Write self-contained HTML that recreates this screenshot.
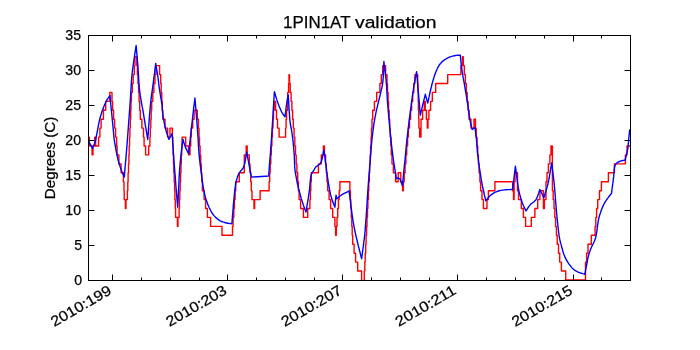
<!DOCTYPE html><html><head><meta charset="utf-8"><style>html,body{margin:0;padding:0;background:#fff;width:700px;height:350px;overflow:hidden}svg{display:block;will-change:transform}text{font-family:"Liberation Sans",sans-serif;fill:#000;stroke:#000;stroke-width:0.25px}</style></head><body>
<svg width="700" height="350" viewBox="0 0 700 350">
<rect x="0" y="0" width="700" height="350" fill="#fff"/>
<defs><clipPath id="c"><rect x="88" y="35" width="542" height="245"/></clipPath></defs>
<polyline clip-path="url(#c)" points="87.0,137.1 89.4,137.1 89.4,146.0 92.1,146.0 92.1,154.9 93.0,154.9 93.0,146.0 94.7,146.0 94.7,137.1 95.6,137.1 95.6,146.0 98.6,146.0 98.6,137.1 99.9,137.1 99.9,128.1 101.1,128.1 101.1,119.2 103.4,119.2 103.4,110.3 105.7,110.3 105.7,101.4 109.8,101.4 109.8,92.4 112.0,92.4 112.0,101.4 112.6,101.4 112.6,110.3 113.6,110.3 113.6,119.2 114.6,119.2 114.6,128.1 115.6,128.1 115.6,137.1 116.6,137.1 116.6,146.0 117.1,146.0 117.1,154.9 118.9,154.9 118.9,163.9 121.1,163.9 121.1,172.8 123.4,172.8 123.4,181.7 124.0,181.7 124.0,190.7 124.2,190.7 124.2,199.6 125.4,199.6 125.4,208.5 126.0,208.5 126.0,199.6 127.4,199.6 127.4,190.7 127.8,190.7 127.8,181.7 128.1,181.7 128.1,172.8 128.5,172.8 128.5,163.9 128.9,163.9 128.9,154.9 129.2,154.9 129.2,146.0 129.6,146.0 129.6,137.1 129.9,137.1 129.9,128.1 130.3,128.1 130.3,119.2 130.7,119.2 130.7,110.3 131.0,110.3 131.0,101.4 131.4,101.4 131.4,92.4 132.3,92.4 132.3,83.5 133.2,83.5 133.2,74.6 134.3,74.6 134.3,65.6 135.0,65.6 135.0,56.7 136.8,56.7 136.8,65.6 137.4,65.6 137.4,74.6 138.0,74.6 138.0,83.5 138.6,83.5 138.6,92.4 139.1,92.4 139.1,101.4 139.7,101.4 139.7,110.3 140.3,110.3 140.3,119.2 141.9,119.2 141.9,128.1 143.5,128.1 143.5,137.1 144.1,137.1 144.1,146.0 145.6,146.0 145.6,154.9 148.7,154.9 148.7,146.0 149.9,146.0 149.9,137.1 150.3,137.1 150.3,128.1 150.8,128.1 150.8,119.2 151.2,119.2 151.2,110.3 151.7,110.3 151.7,101.4 152.8,101.4 152.8,92.4 153.9,92.4 153.9,83.5 155.0,83.5 155.0,74.6 156.0,74.6 156.0,65.6 159.6,65.6 159.6,74.6 160.7,74.6 160.7,83.5 161.2,83.5 161.2,92.4 161.8,92.4 161.8,101.4 162.3,101.4 162.3,110.3 162.8,110.3 162.8,119.2 165.0,119.2 165.0,128.1 167.6,128.1 167.6,137.1 170.0,137.1 170.0,128.1 172.4,128.1 172.4,137.1 172.8,137.1 172.8,146.0 173.1,146.0 173.1,154.9 173.5,154.9 173.5,163.9 173.8,163.9 173.8,172.8 174.2,172.8 174.2,181.7 174.6,181.7 174.6,190.7 174.9,190.7 174.9,199.6 175.3,199.6 175.3,208.5 175.6,208.5 175.6,217.4 176.0,217.4 177.4,217.4 177.4,226.4 178.0,226.4 178.0,217.4 179.1,217.4 179.1,208.5 179.5,208.5 179.5,199.6 179.8,199.6 179.8,190.7 180.2,190.7 180.2,181.7 180.6,181.7 180.6,172.8 181.0,172.8 181.0,163.9 181.3,163.9 181.3,154.9 181.7,154.9 181.7,146.0 182.1,146.0 182.1,137.1 185.7,137.1 185.7,146.0 188.6,146.0 188.6,154.9 190.0,154.9 190.0,146.0 190.7,146.0 190.7,137.1 191.3,137.1 191.3,128.1 192.7,128.1 192.7,119.2 194.1,119.2 194.1,110.3 197.3,110.3 197.3,119.2 198.4,119.2 198.4,128.1 199.0,128.1 199.0,137.1 199.5,137.1 199.5,146.0 200.1,146.0 200.1,154.9 200.7,154.9 200.7,163.9 201.3,163.9 201.3,172.8 201.8,172.8 201.8,181.7 202.4,181.7 202.4,190.7 204.1,190.7 204.1,199.6 205.6,199.6 205.6,208.5 207.4,208.5 207.4,217.4 210.6,217.4 210.6,226.4 222.0,226.4 222.0,235.3 232.5,235.3 232.5,226.4 233.1,226.4 233.1,217.4 233.8,217.4 233.8,208.5 234.4,208.5 234.4,199.6 235.1,199.6 235.1,190.7 235.7,190.7 235.7,181.7 239.3,181.7 239.3,172.8 244.3,172.8 244.3,154.9 246.2,154.9 246.2,146.0 247.2,146.0 247.2,154.9 249.3,154.9 249.3,163.9 250.0,163.9 250.0,172.8 250.7,172.8 250.7,181.7 251.3,181.7 251.3,190.7 252.0,190.7 252.0,199.6 254.0,199.6 254.0,208.5 254.6,208.5 254.6,199.6 260.1,199.6 260.1,190.7 269.1,190.7 269.1,181.7 269.7,181.7 269.7,172.8 270.2,172.8 270.2,163.9 270.8,163.9 270.8,154.9 271.3,154.9 271.3,146.0 271.9,146.0 271.9,137.1 272.4,137.1 272.4,128.1 273.0,128.1 273.0,119.2 273.5,119.2 273.5,110.3 274.1,110.3 274.1,101.4 275.6,101.4 275.6,110.3 276.5,110.3 276.5,119.2 277.5,119.2 277.5,128.1 279.1,128.1 279.1,137.1 285.6,137.1 285.6,128.1 286.1,128.1 286.1,119.2 286.6,119.2 286.6,110.3 287.7,110.3 287.7,92.4 288.6,92.4 288.6,83.5 289.0,83.5 289.0,74.6 289.5,74.6 289.5,83.5 290.2,83.5 290.2,92.4 291.1,92.4 291.1,101.4 291.9,101.4 291.9,110.3 292.6,110.3 292.6,119.2 293.3,119.2 293.3,128.1 294.1,128.1 294.1,137.1 294.8,137.1 294.8,146.0 295.5,146.0 295.5,154.9 296.2,154.9 296.2,163.9 296.9,163.9 296.9,172.8 297.7,172.8 297.7,181.7 298.4,181.7 298.4,190.7 299.1,190.7 299.1,199.6 300.6,199.6 300.6,208.5 303.4,208.5 303.4,217.4 307.7,217.4 307.7,208.5 309.9,208.5 309.9,199.6 310.4,199.6 310.4,190.7 310.8,190.7 310.8,181.7 311.3,181.7 311.3,172.8 318.4,172.8 318.4,163.9 321.3,163.9 321.3,154.9 323.4,154.9 323.4,146.0 324.4,146.0 324.4,154.9 325.6,154.9 325.6,163.9 326.3,163.9 326.3,172.8 327.0,172.8 327.0,181.7 327.7,181.7 327.7,190.7 329.1,190.7 329.1,199.6 330.6,199.6 330.6,208.5 332.7,208.5 332.7,217.4 334.9,217.4 334.9,226.4 335.6,226.4 335.6,235.3 336.3,235.3 336.3,226.4 337.0,226.4 337.0,217.4 337.7,217.4 337.7,208.5 338.5,208.5 338.4,199.6 339.2,199.6 339.2,190.7 339.9,190.7 339.9,181.7 349.9,181.7 349.9,190.7 350.4,190.7 350.4,199.6 350.8,199.6 350.8,208.5 351.3,208.5 351.3,217.4 351.8,217.4 351.8,226.4 352.2,226.4 352.2,235.3 352.7,235.3 352.7,244.2 354.1,244.2 354.1,253.2 355.6,253.2 355.6,262.1 357.7,262.1 357.7,271.0 361.6,271.0 361.6,297.8 363.4,297.8 363.4,288.9 363.9,288.9 363.9,279.9 364.3,279.9 364.3,271.0 364.8,271.0 364.8,262.1 365.2,262.1 365.2,253.2 365.7,253.2 365.7,244.2 366.1,244.2 366.1,235.3 366.6,235.3 366.6,226.4 367.0,226.4 367.0,217.4 367.5,217.4 367.5,208.5 367.9,208.5 367.9,199.6 368.4,199.6 368.4,190.7 368.8,190.7 368.8,181.7 369.3,181.7 369.3,172.8 369.7,172.8 369.7,163.9 370.2,163.9 370.2,154.9 370.6,154.9 370.6,146.0 371.1,146.0 371.1,137.1 371.5,137.1 371.5,128.1 372.0,128.1 372.0,119.2 372.7,119.2 372.7,110.3 374.4,110.3 374.4,101.4 376.7,101.4 376.7,92.4 379.9,92.4 379.9,83.5 381.3,83.5 381.3,74.6 382.7,74.6 382.7,65.6 385.6,65.6 385.6,74.6 387.0,74.6 387.0,83.5 387.5,83.5 387.5,92.4 388.1,92.4 388.1,101.4 388.6,101.4 388.6,110.3 389.2,110.3 389.1,119.2 389.7,119.2 389.7,128.1 390.2,128.1 390.2,137.1 390.8,137.1 390.8,146.0 391.3,146.0 391.3,154.9 392.0,154.9 392.0,163.9 393.4,163.9 393.4,172.8 395.6,172.8 395.6,181.7 398.2,181.7 398.2,172.8 400.8,172.8 400.8,181.7 402.6,181.7 402.6,190.7 403.4,190.7 403.4,181.7 404.2,181.7 404.2,172.8 405.1,172.8 405.1,163.9 405.9,163.9 405.9,154.9 406.7,154.9 406.7,146.0 407.6,146.0 407.6,137.1 408.4,137.1 408.4,128.1 409.5,128.1 409.5,119.2 410.6,119.2 410.6,110.3 411.6,110.3 411.6,101.4 412.7,101.4 412.7,92.4 413.8,92.4 413.8,83.5 414.9,83.5 414.9,74.6 417.7,74.6 417.7,83.5 417.9,83.5 417.9,92.4 418.2,92.4 418.2,101.4 418.4,101.4 418.4,110.3 418.7,110.3 418.7,119.2 418.9,119.2 418.9,128.1 419.7,128.1 419.7,137.1 421.0,137.1 421.0,119.2 422.6,119.2 422.6,110.3 424.3,110.3 424.3,101.4 425.3,101.4 425.3,110.3 426.4,110.3 426.4,119.2 427.3,119.2 427.3,128.1 428.0,128.1 428.0,119.2 428.9,119.2 428.9,110.3 430.6,110.3 430.6,101.4 432.3,101.4 432.3,92.4 435.7,92.4 435.7,83.5 447.7,83.5 447.7,74.6 460.9,74.6 460.9,65.6 462.5,65.6 462.5,56.7 463.3,56.7 463.3,65.6 464.3,65.6 464.3,74.6 465.4,74.6 465.4,83.5 466.3,83.5 466.3,92.4 467.2,92.4 467.2,101.4 468.1,101.4 468.1,110.3 469.0,110.3 469.0,119.2 471.0,119.2 471.0,128.1 474.0,128.1 474.0,119.2 475.5,119.2 475.5,128.1 476.2,128.1 476.2,137.1 477.0,137.1 477.0,146.0 477.7,146.0 477.7,154.9 478.4,154.9 478.4,163.9 479.1,163.9 479.1,172.8 479.9,172.8 479.9,181.7 480.6,181.7 480.6,190.7 482.0,190.7 482.0,199.6 483.4,199.6 483.4,208.5 487.0,208.5 487.0,199.6 488.4,199.6 488.4,190.7 494.9,190.7 494.9,181.7 512.7,181.7 512.7,190.7 513.5,190.7 513.5,199.6 514.1,199.6 514.1,181.7 515.0,181.7 515.0,172.8 517.5,172.8 517.5,190.7 518.5,190.7 518.5,199.6 521.3,199.6 521.3,208.5 523.4,208.5 523.4,217.4 525.6,217.4 525.6,226.4 531.3,226.4 531.3,217.4 534.9,217.4 534.9,208.5 537.7,208.5 537.7,199.6 539.9,199.6 539.9,190.7 543.4,190.7 543.4,208.5 544.4,208.5 544.4,199.6 546.0,199.6 546.0,181.7 547.0,181.7 547.0,172.8 548.4,172.8 548.4,163.9 549.9,163.9 549.9,154.9 551.0,154.9 551.0,146.0 552.4,146.0 552.4,190.7 553.2,190.7 553.2,199.6 554.0,199.6 554.0,208.5 554.8,208.5 554.8,217.4 555.6,217.4 555.6,226.4 556.4,226.4 556.4,235.3 557.2,235.3 557.2,244.2 558.5,244.2 558.5,253.2 559.7,253.2 559.7,262.1 561.4,262.1 561.4,271.0 565.7,271.0 565.7,279.9 585.5,279.9 585.5,262.1 586.6,262.1 586.6,253.2 588.0,253.2 588.0,244.2 591.3,244.2 591.3,235.3 595.1,235.3 595.1,226.4 595.8,226.4 595.8,217.4 596.6,217.4 596.6,208.5 597.7,208.5 597.7,199.6 599.5,199.6 599.5,190.7 601.4,190.7 601.4,181.7 608.4,181.7 608.4,172.8 614.4,172.8 614.4,163.9 625.4,163.9 625.4,154.9 627.0,154.9 627.0,146.0 632.0,146.0" fill="none" stroke="#ff0000" stroke-width="1.4" stroke-linejoin="round"/>
<polyline clip-path="url(#c)" points="87.0,139.5 87.3,139.9 87.5,140.2 87.8,140.5 88.1,140.9 88.4,141.3 88.7,141.7 89.3,142.6 89.9,143.7 90.6,144.9 91.3,146.1 91.9,147.3 92.6,148.5 93.0,147.3 93.5,146.2 94.0,145.1 94.4,143.9 94.8,142.7 95.2,141.5 95.6,140.2 95.9,138.8 96.1,137.5 96.4,136.0 96.7,134.6 97.0,133.0 97.4,130.8 97.9,128.3 98.4,125.7 98.9,123.2 99.4,120.6 100.0,118.3 100.5,116.4 101.1,114.6 101.6,112.8 102.2,111.1 102.8,109.4 103.4,107.8 103.9,106.5 104.4,105.2 104.9,104.0 105.5,102.8 106.0,101.7 106.6,100.6 107.1,99.7 107.7,98.8 108.3,98.0 108.8,97.2 109.4,96.3 110.0,95.5 110.1,97.1 110.3,98.7 110.4,100.3 110.6,101.9 110.7,103.7 110.9,105.7 111.3,109.7 111.8,114.5 112.3,119.6 112.8,124.7 113.2,129.3 113.6,133.0 113.7,134.4 113.8,135.5 113.9,136.6 114.0,137.6 114.1,138.7 114.3,140.0 114.7,142.8 115.3,146.0 115.9,149.5 116.6,153.1 117.3,156.5 118.0,159.5 118.5,161.6 119.1,163.5 119.7,165.4 120.3,167.2 120.9,168.9 121.5,170.5 122.0,171.7 122.4,172.8 122.9,173.9 123.4,174.9 123.8,175.9 124.3,177.0 124.8,170.9 125.3,164.7 125.9,158.6 126.4,152.4 126.9,146.3 127.4,140.0 127.9,133.3 128.4,126.4 128.9,119.5 129.4,112.7 129.9,106.1 130.3,100.0 130.6,95.5 130.8,91.3 131.1,87.3 131.3,83.3 131.6,79.2 132.0,75.0 132.5,70.2 133.2,65.3 133.9,60.4 134.6,55.4 135.4,50.4 136.1,45.5 136.4,48.4 136.6,51.3 136.9,54.2 137.2,57.1 137.4,60.2 137.7,63.4 138.0,67.8 138.3,72.6 138.6,77.5 138.9,82.5 139.3,87.4 139.8,92.0 140.3,95.7 140.9,99.3 141.5,102.8 142.1,106.2 142.8,109.7 143.4,113.4 144.1,117.6 144.8,121.9 145.5,126.3 146.3,130.7 147.0,135.1 147.7,139.5 148.2,133.6 148.6,127.4 149.1,121.2 149.5,115.3 150.0,109.8 150.4,105.0 150.7,102.5 150.9,100.3 151.2,98.2 151.4,96.2 151.7,94.2 152.0,92.0 152.4,89.3 152.8,86.4 153.2,83.4 153.6,80.5 153.9,77.7 154.3,75.0 154.6,72.9 154.8,71.0 155.0,69.1 155.3,67.2 155.5,65.3 155.7,63.4 156.0,65.3 156.3,67.2 156.6,69.1 157.0,71.0 157.3,72.9 157.6,75.0 158.0,77.7 158.4,80.5 158.7,83.4 159.1,86.4 159.5,89.3 159.9,92.0 160.3,94.3 160.6,96.5 161.0,98.7 161.4,100.9 161.7,102.9 162.0,105.0 162.2,106.7 162.3,108.4 162.4,110.0 162.5,111.6 162.7,113.2 162.9,115.0 163.2,117.3 163.7,119.7 164.1,122.2 164.6,124.6 165.2,127.0 165.7,129.3 166.2,131.1 166.7,132.8 167.3,134.4 167.8,136.0 168.4,137.7 168.9,139.3 172.1,133.6 172.5,138.8 172.8,143.9 173.2,149.0 173.5,154.2 173.9,159.5 174.3,165.0 174.8,171.7 175.4,178.6 175.9,185.8 176.5,193.0 177.1,200.2 177.7,207.3 178.1,200.1 178.4,192.8 178.8,185.5 179.1,178.3 179.5,171.4 180.0,165.0 180.4,160.3 180.9,156.0 181.4,151.7 181.9,147.6 182.4,143.5 182.9,139.3 183.4,140.8 183.8,142.2 184.3,143.7 184.7,145.2 185.2,146.6 185.7,147.9 186.2,148.9 186.6,149.9 187.1,150.8 187.6,151.8 188.1,152.7 188.6,153.6 189.3,147.0 190.1,140.2 190.8,133.3 191.6,126.7 192.3,120.5 192.9,115.0 193.3,111.8 193.6,108.8 193.9,106.1 194.3,103.4 194.6,100.8 194.9,98.0 195.4,103.9 195.9,110.0 196.4,116.0 196.9,122.0 197.3,127.7 197.7,133.0 198.0,136.9 198.2,140.6 198.4,144.1 198.6,147.6 198.8,151.0 199.1,154.4 199.4,157.6 199.8,160.8 200.1,163.9 200.5,167.0 200.9,170.0 201.3,173.0 201.6,175.6 202.0,178.2 202.3,180.8 202.6,183.3 203.0,185.7 203.4,188.0 203.7,189.8 204.1,191.6 204.4,193.3 204.8,195.0 205.2,196.6 205.7,198.3 206.2,200.0 206.8,201.6 207.4,203.3 208.0,204.9 208.7,206.5 209.4,208.0 210.1,209.3 210.7,210.6 211.4,211.9 212.2,213.1 212.9,214.3 213.8,215.4 214.7,216.4 215.6,217.4 216.7,218.3 217.7,219.1 218.7,219.9 219.8,220.6 220.7,221.1 221.7,221.5 222.7,221.9 223.7,222.2 224.7,222.5 225.7,222.8 226.7,223.0 227.7,223.2 228.8,223.4 229.8,223.5 230.9,223.6 231.9,223.8 232.2,219.8 232.5,215.7 232.9,211.6 233.2,207.5 233.5,203.6 233.9,199.8 234.2,196.6 234.5,193.4 234.8,190.3 235.2,187.3 235.6,184.5 236.1,181.9 236.5,180.2 237.0,178.6 237.5,177.0 238.0,175.6 238.6,174.2 239.3,172.9 240.0,171.9 240.7,171.0 241.5,170.1 242.2,169.2 243.0,168.3 243.6,167.1 244.3,165.0 244.9,162.7 245.4,160.1 245.8,157.4 246.2,154.7 246.7,152.1 251.4,177.1 268.6,176.0 269.1,170.1 269.5,164.2 270.0,158.3 270.5,152.4 270.9,146.3 271.4,140.0 271.9,132.3 272.4,124.4 272.9,116.2 273.4,108.0 273.9,99.7 274.4,91.6 274.8,92.9 275.2,94.2 275.5,95.5 275.9,96.8 276.3,98.1 276.7,99.4 277.1,100.6 277.5,101.8 277.9,103.0 278.4,104.2 278.8,105.4 279.3,106.6 279.8,107.8 280.3,108.9 280.8,110.1 281.3,111.3 281.9,112.3 282.4,113.3 282.8,114.0 283.3,114.6 283.7,115.2 284.1,115.8 284.6,116.3 285.0,116.9 285.3,114.2 285.7,111.5 286.0,108.7 286.3,106.1 286.7,103.6 287.0,101.4 287.2,100.2 287.4,99.1 287.6,98.0 287.8,97.0 288.0,96.0 288.2,95.0 288.5,99.6 288.8,104.4 289.1,109.3 289.4,113.9 289.7,118.2 290.1,122.0 290.4,124.1 290.7,125.9 291.0,127.6 291.4,129.3 291.7,131.0 292.0,133.0 292.4,136.0 292.8,139.3 293.2,142.7 293.5,146.2 293.8,149.7 294.1,153.0 294.3,155.9 294.4,158.7 294.5,161.5 294.6,164.3 294.7,167.1 295.0,170.0 295.4,173.1 296.0,176.2 296.6,179.4 297.2,182.5 297.9,185.6 298.6,188.6 299.3,191.3 300.0,193.9 300.7,196.5 301.4,199.0 302.2,201.4 302.9,203.6 303.4,205.2 303.9,206.6 304.5,208.0 305.0,209.4 305.5,210.7 306.0,212.1 306.6,208.6 307.1,205.1 307.7,201.6 308.3,198.2 308.8,194.7 309.3,191.4 309.7,188.3 309.9,185.1 310.2,181.9 310.5,179.0 310.9,176.4 311.4,174.3 311.7,173.5 312.1,172.9 312.5,172.3 312.8,171.8 313.2,171.3 313.6,170.7 313.9,170.1 314.2,169.6 314.5,169.0 314.8,168.4 315.2,167.9 315.6,167.3 316.3,166.6 317.1,166.0 318.1,165.4 319.0,164.7 319.9,163.9 320.6,163.0 321.4,161.3 322.0,159.3 322.5,157.0 323.0,154.7 323.4,152.3 323.9,150.1 324.7,155.7 325.4,161.6 326.2,167.4 326.9,173.0 327.7,178.3 328.4,183.0 328.9,185.8 329.3,188.3 329.8,190.7 330.2,193.0 330.7,195.1 331.3,197.3 331.8,199.1 332.4,200.8 333.0,202.4 333.7,204.0 334.3,205.7 334.9,207.3 336.0,195.1 337.0,198.7 337.7,198.1 338.4,197.5 339.0,196.9 339.7,196.3 340.5,195.7 341.3,195.1 342.4,194.4 343.7,193.7 345.0,193.0 346.4,192.3 347.8,191.6 349.1,190.9 349.7,195.6 350.3,200.5 350.9,205.4 351.5,210.1 352.1,214.6 352.7,218.7 353.1,221.3 353.5,223.7 353.9,225.9 354.3,228.1 354.8,230.4 355.3,233.0 356.2,236.9 357.2,241.0 358.2,245.4 359.4,249.9 360.5,254.3 361.6,258.7 362.2,254.5 362.7,250.5 363.3,246.4 363.8,242.2 364.4,237.8 364.9,233.0 365.5,225.6 366.1,217.6 366.7,209.0 367.2,200.3 367.8,191.5 368.4,183.0 369.1,174.4 369.8,165.4 370.5,156.5 371.2,147.9 371.9,139.9 372.7,133.0 373.2,129.4 373.6,126.2 374.0,123.2 374.5,120.3 375.0,117.5 375.6,114.4 376.3,110.8 377.2,107.1 378.1,103.3 379.0,99.6 379.9,96.1 380.6,93.0 381.0,91.2 381.4,89.5 381.8,88.0 382.1,86.5 382.4,84.9 382.7,83.0 383.0,79.9 383.3,76.4 383.4,72.8 383.6,69.0 383.7,65.2 383.9,61.5 384.3,65.1 384.7,68.7 385.2,72.3 385.6,75.8 386.0,79.4 386.3,83.0 386.6,86.5 386.8,90.0 387.0,93.5 387.2,97.0 387.4,100.7 387.7,104.4 388.1,109.0 388.5,113.8 388.9,118.7 389.4,123.6 389.8,128.4 390.3,133.0 390.7,136.7 391.1,140.3 391.4,143.8 391.8,147.3 392.2,150.8 392.7,154.4 393.2,158.4 393.8,162.4 394.4,166.5 395.1,170.5 395.7,174.6 396.3,178.7 398.4,178.0 400.0,179.0 402.4,185.7 402.6,184.1 402.7,182.7 402.9,181.2 403.0,179.7 403.2,177.9 403.4,175.9 403.9,170.4 404.6,163.5 405.4,155.8 406.1,147.8 406.9,140.0 407.7,133.0 408.3,127.8 408.9,122.9 409.5,118.1 410.1,113.4 410.7,108.9 411.3,104.4 411.8,100.6 412.3,96.8 412.9,93.1 413.4,89.5 413.9,86.1 414.4,83.0 414.8,80.9 415.1,78.9 415.5,77.1 415.9,75.3 416.2,73.5 416.6,71.6 416.9,75.5 417.3,79.5 417.6,83.4 417.9,87.3 418.3,91.2 418.6,95.0 418.9,98.4 419.2,101.8 419.5,105.1 419.7,108.4 420.0,111.7 420.3,115.0 425.3,94.3 427.7,103.0 428.2,100.8 428.7,98.6 429.2,96.4 429.6,94.2 430.1,92.0 430.6,90.0 431.0,88.4 431.4,86.8 431.7,85.3 432.1,83.8 432.5,82.4 432.9,80.9 433.3,79.4 433.8,78.0 434.2,76.5 434.7,75.1 435.2,73.7 435.7,72.3 436.2,71.1 436.7,69.9 437.3,68.7 437.8,67.5 438.5,66.4 439.1,65.4 439.7,64.5 440.3,63.7 441.0,63.0 441.6,62.3 442.3,61.6 443.1,60.9 444.0,60.2 444.9,59.6 445.9,59.0 446.9,58.4 447.9,57.9 448.9,57.4 449.8,57.0 450.8,56.7 451.7,56.4 452.7,56.1 453.6,55.9 454.6,55.7 455.5,55.5 456.5,55.4 457.4,55.3 458.4,55.3 459.3,55.2 460.3,55.1 460.6,57.7 460.8,60.3 461.1,63.0 461.4,65.6 461.7,68.1 462.0,70.6 462.3,72.7 462.7,74.7 463.0,76.7 463.4,78.7 463.8,80.8 464.2,83.0 464.8,86.3 465.3,89.8 466.0,93.5 466.6,97.3 467.2,101.0 467.7,104.4 468.1,107.2 468.5,109.9 468.9,112.6 469.2,115.2 469.6,117.7 470.0,120.0 470.3,121.7 470.7,123.3 471.1,124.9 471.5,126.4 471.8,127.9 472.2,129.5 475.0,127.5 475.3,129.6 475.5,131.6 475.8,133.7 476.0,135.8 476.3,137.9 476.5,140.0 476.7,142.3 476.9,144.5 477.0,146.8 477.2,149.2 477.4,151.7 477.7,154.4 478.2,158.6 478.8,163.3 479.5,168.3 480.3,173.3 481.0,178.2 481.8,182.6 482.4,185.9 483.1,189.0 483.8,192.0 484.4,195.0 485.1,197.9 485.8,200.9 486.4,200.2 486.9,199.4 487.5,198.6 488.0,197.9 488.6,197.2 489.3,196.5 490.1,195.8 490.9,195.1 491.7,194.4 492.6,193.8 493.5,193.2 494.4,192.7 495.3,192.2 496.3,191.8 497.3,191.4 498.3,191.0 499.4,190.7 500.6,190.4 502.4,190.1 504.3,189.9 506.3,189.7 508.4,189.6 510.6,189.5 512.6,189.3 515.4,166.3 516.0,170.6 516.5,175.0 517.1,179.4 517.7,183.7 518.3,187.7 519.0,191.4 519.6,193.8 520.2,196.1 520.8,198.2 521.5,200.3 522.1,202.2 522.8,204.0 523.3,205.3 523.8,206.5 524.4,207.6 524.9,208.7 525.5,209.8 526.0,210.9 526.7,209.8 527.4,208.8 528.1,207.7 528.8,206.6 529.6,205.6 530.4,204.6 531.3,203.7 532.3,203.0 533.3,202.2 534.3,201.5 535.2,200.6 536.0,199.6 536.8,198.2 537.5,196.6 538.1,194.8 538.7,193.0 539.2,191.2 539.8,189.5 543.9,197.7 544.6,195.3 545.3,192.9 546.1,190.5 546.8,188.1 547.5,185.6 548.1,183.0 548.8,179.9 549.4,176.6 550.0,173.2 550.5,169.8 551.1,166.4 551.7,163.0 552.1,166.3 552.5,169.5 552.9,172.7 553.3,175.9 553.7,179.4 554.1,183.0 554.6,188.2 555.1,194.0 555.5,199.9 556.0,205.9 556.5,211.7 557.0,217.0 557.4,220.9 557.8,224.8 558.2,228.5 558.6,232.0 559.0,235.2 559.5,238.0 559.8,239.5 560.1,240.8 560.4,242.1 560.7,243.2 561.1,244.4 561.4,245.7 561.8,247.2 562.2,248.7 562.6,250.2 563.0,251.7 563.5,253.3 564.0,254.7 564.6,256.0 565.1,257.4 565.8,258.7 566.4,260.0 567.2,261.2 567.9,262.4 568.7,263.6 569.5,264.7 570.3,265.8 571.2,266.9 572.1,267.9 573.0,268.8 573.8,269.5 574.6,270.1 575.4,270.7 576.3,271.2 577.2,271.6 578.1,272.1 579.1,272.5 580.2,272.9 581.4,273.2 582.5,273.6 583.7,273.9 584.8,274.2 585.1,272.8 585.4,271.4 585.6,269.9 585.9,268.5 586.2,267.1 586.5,265.6 586.8,264.0 587.1,262.4 587.4,260.8 587.7,259.1 588.0,257.5 588.4,256.0 588.8,254.7 589.2,253.4 589.6,252.1 590.0,250.9 590.5,249.6 591.0,248.3 591.7,246.7 592.4,245.1 593.3,243.5 594.1,241.8 594.8,240.0 595.5,238.0 596.2,235.0 596.8,231.7 597.2,228.1 597.7,224.6 598.2,221.1 598.9,217.9 599.6,215.3 600.5,212.8 601.3,210.3 602.2,208.0 603.1,205.9 604.0,204.0 604.5,203.0 605.0,202.1 605.5,201.3 606.0,200.6 606.5,199.8 607.1,199.0 607.8,198.1 608.5,197.1 609.2,196.2 610.0,195.2 610.8,194.3 611.5,193.3 611.8,190.9 612.1,188.5 612.4,186.1 612.8,183.7 613.1,181.3 613.4,178.9 613.7,176.4 613.9,173.9 614.1,171.3 614.3,168.8 614.7,166.7 615.3,165.0 615.7,164.3 616.2,163.7 616.6,163.2 617.2,162.7 617.8,162.3 618.4,161.9 619.3,161.5 620.4,161.1 621.6,160.8 622.8,160.5 624.0,160.3 625.2,160.0 627.8,148.9 629.7,129.4" fill="none" stroke="#0000ff" stroke-width="1.4" stroke-linejoin="round"/>
<rect x="88.5" y="35.5" width="542" height="245" fill="none" stroke="#000" stroke-width="1"/>
<path d="M88.5,280.5h6M630.5,280.5h-6M88.5,245.5h6M630.5,245.5h-6M88.5,210.5h6M630.5,210.5h-6M88.5,175.5h6M630.5,175.5h-6M88.5,140.5h6M630.5,140.5h-6M88.5,105.5h6M630.5,105.5h-6M88.5,70.5h6M630.5,70.5h-6M88.5,35.5h6M630.5,35.5h-6M112.5,280.5v-6M112.5,35.5v6M141.5,280.5v-3M141.5,35.5v3M170.5,280.5v-3M170.5,35.5v3M199.5,280.5v-3M199.5,35.5v3M227.5,280.5v-6M227.5,35.5v6M256.5,280.5v-3M256.5,35.5v3M285.5,280.5v-3M285.5,35.5v3M314.5,280.5v-3M314.5,35.5v3M342.5,280.5v-6M342.5,35.5v6M371.5,280.5v-3M371.5,35.5v3M400.5,280.5v-3M400.5,35.5v3M429.5,280.5v-3M429.5,35.5v3M457.5,280.5v-6M457.5,35.5v6M486.5,280.5v-3M486.5,35.5v3M515.5,280.5v-3M515.5,35.5v3M544.5,280.5v-3M544.5,35.5v3M573.5,280.5v-6M573.5,35.5v6M601.5,280.5v-3M601.5,35.5v3" stroke="#000" stroke-width="1" fill="none"/>
<text x="82" y="284.9" font-size="14.1" text-anchor="end">0</text>
<text x="82" y="249.9" font-size="14.1" text-anchor="end">5</text>
<text x="81" y="214.9" font-size="14.1" text-anchor="end">10</text>
<text x="81" y="179.9" font-size="14.1" text-anchor="end">15</text>
<text x="81" y="144.9" font-size="14.1" text-anchor="end">20</text>
<text x="81" y="109.9" font-size="14.1" text-anchor="end">25</text>
<text x="81" y="74.9" font-size="14.1" text-anchor="end">30</text>
<text x="81" y="39.9" font-size="14.1" text-anchor="end">35</text>
<text x="283.0" y="27.6" font-size="16.8" textLength="67.5" lengthAdjust="spacingAndGlyphs">1PIN1AT</text><text x="355.0" y="27.6" font-size="16.8" textLength="81.5" lengthAdjust="spacingAndGlyphs">validation</text>
<text transform="translate(55.2,157.9) rotate(-90)" x="0" y="0" font-size="14" text-anchor="middle" textLength="82.5" lengthAdjust="spacingAndGlyphs">Degrees (C)</text>
<text transform="translate(107.5,284.6) rotate(-30)" x="0" y="10" font-size="14.5" text-anchor="end" textLength="67.3" lengthAdjust="spacingAndGlyphs">2010:199</text>
<text transform="translate(222.8,284.6) rotate(-30)" x="0" y="10" font-size="14.5" text-anchor="end" textLength="67.3" lengthAdjust="spacingAndGlyphs">2010:203</text>
<text transform="translate(338.0,284.6) rotate(-30)" x="0" y="10" font-size="14.5" text-anchor="end" textLength="67.3" lengthAdjust="spacingAndGlyphs">2010:207</text>
<text transform="translate(452.1,284.6) rotate(-30)" x="0" y="10" font-size="14.5" text-anchor="end" textLength="67.3" lengthAdjust="spacingAndGlyphs">2010:211</text>
<text transform="translate(568.5,284.6) rotate(-30)" x="0" y="10" font-size="14.5" text-anchor="end" textLength="67.3" lengthAdjust="spacingAndGlyphs">2010:215</text>
</svg></body></html>
